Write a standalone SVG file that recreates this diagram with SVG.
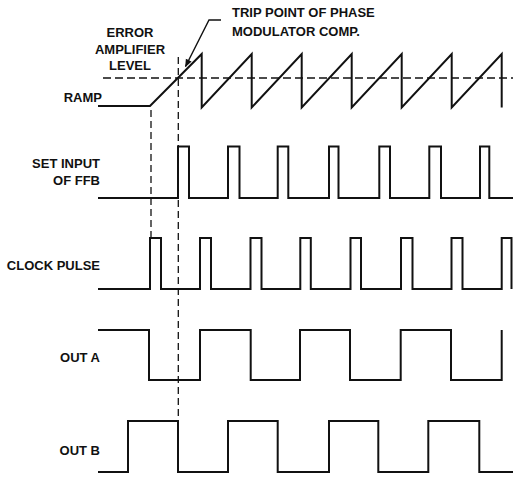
<svg xmlns="http://www.w3.org/2000/svg" width="513" height="477" viewBox="0 0 513 477">
<style>
  .lbl { font-family: "Liberation Sans", Arial, sans-serif; font-weight: bold; font-size: 13px; fill: #111; }
  .end { text-anchor: end; }
  .mid { text-anchor: middle; }
  .wave { fill: none; stroke: #111; stroke-width: 2; stroke-linejoin: miter; stroke-linecap: butt; }
  .dash { fill: none; stroke: #111; stroke-width: 1.3; stroke-dasharray: 7 4; }
  .lead { fill: none; stroke: #111; stroke-width: 1.4; }
</style>
<defs>
  <marker id="arrow" viewBox="0 0 10 10" refX="9" refY="5" markerWidth="8" markerHeight="8" markerUnits="userSpaceOnUse" orient="auto">
    <path d="M0,1 L10,5 L0,9 Z" fill="#111"/>
  </marker>
</defs>
<rect width="513" height="477" fill="#fff"/>

<g id="error-amplifier-label">
  <text class="lbl mid" x="130" y="37">ERROR</text>
  <text class="lbl mid" x="130" y="53.5">AMPLIFIER</text>
  <text class="lbl mid" x="130" y="70">LEVEL</text>
</g>

<g id="trip-point-label">
  <text class="lbl" x="232" y="17">TRIP POINT OF PHASE</text>
  <text class="lbl" x="232" y="36">MODULATOR COMP.</text>
</g>

<g id="ramp">
  <text class="lbl end" x="102" y="102">RAMP</text>
  <path class="wave" d="M98,106 H150 L201.7,54 V107.5 L251.7,54 V107.5 L301.7,54 V107.5 L351.7,54 V107.5 L401.7,54 V107.5 L451.7,54 V107.5 L501.7,54 V107.5"/>
</g>

<g id="set-input">
  <text class="lbl end" x="100" y="168">SET INPUT</text>
  <text class="lbl end" x="100" y="185">OF FFB</text>
  <path class="wave" d="M98,198 H178 V146.5 H189 V198 H228 V146.5 H239.5 V198 H277.7 V146.5 H288.3 V198 H329 V146.5 H338.5 V198 H379.3 V146.5 H390 V198 H429.3 V146.5 H441 V198 H480 V146.5 H489.3 V198 H513"/>
</g>

<g id="clock-pulse">
  <text class="lbl end" x="100" y="270">CLOCK PULSE</text>
  <path class="wave" d="M98,289 H150 V238 H161 V289 H200 V238 H211 V289 H250.5 V238 H261.5 V289 H300.3 V238 H310.8 V289 H350.5 V238 H361 V289 H401 V238 H412.5 V289 H451.5 V238 H462.5 V289 H501.7 V238 H511.5 V289"/>
</g>

<g id="out-a">
  <text class="lbl end" x="100" y="362">OUT A</text>
  <path class="wave" d="M98,330 H149 V380 H200 V330 H250.7 V380 H300 V330 H350 V380 H400.7 V330 H451 V380 H501.7 V330"/>
</g>

<g id="out-b">
  <text class="lbl end" x="100" y="455">OUT B</text>
  <path class="wave" d="M98,472 H128 V421 H178 V472 H228 V421 H277.7 V472 H329 V421 H378.3 V472 H428.3 V421 H479.3 V472 H513"/>
</g>

<g id="connectors">
  <line class="dash" x1="103" y1="78" x2="513" y2="78" style="stroke-dasharray:8 4"/>
  <line class="dash" x1="178.3" y1="57" x2="178.3" y2="417"/>
  <line class="dash" x1="151" y1="110" x2="151" y2="237"/>
  <path class="lead" d="M221,20 H209 L185.5,66.5" marker-end="url(#arrow)"/>
</g>
</svg>
